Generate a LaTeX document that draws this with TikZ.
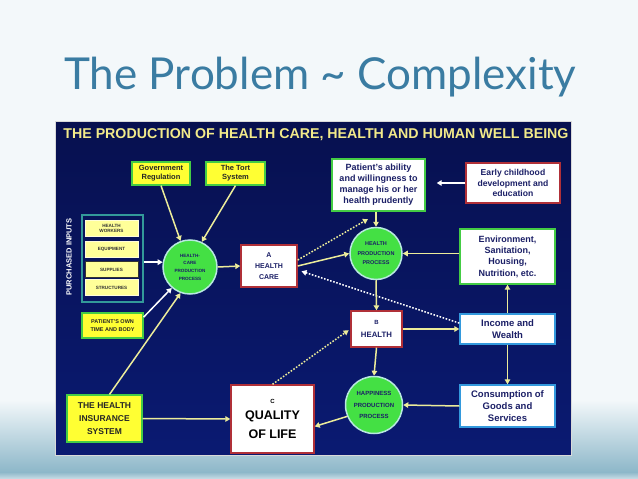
\documentclass[tikz,border=0pt]{standalone}
\usepackage{fontspec}
\setmainfont{Liberation Sans}
\newfontfamily\titlefont{Lato}
\usetikzlibrary{arrows.meta,positioning,calc}

\definecolor{slidebg}{HTML}{F3F8FA}
\definecolor{slideblue}{HTML}{8DB7C9}
\definecolor{titleblue}{HTML}{3A7CA2}
\definecolor{navytop}{HTML}{07104F}
\definecolor{navymid}{HTML}{0C1F88}
\definecolor{navybot}{HTML}{0A1A72}
\definecolor{headyellow}{HTML}{F2EA8A}
\definecolor{linkyellow}{HTML}{ECEC9A}
\definecolor{boxtext}{HTML}{1B1F66}
\definecolor{boxred}{HTML}{B03038}
\definecolor{boxgreen}{HTML}{44CC44}
\definecolor{boxblue}{HTML}{3399DD}
\definecolor{tagyellow}{HTML}{FFFF33}
\definecolor{paleyellow}{HTML}{FFFF99}
\definecolor{procgreen}{HTML}{44E044}
\definecolor{procrim}{HTML}{B8E8E0}
\definecolor{inputteal}{HTML}{339999}

\begin{document}
\begin{tikzpicture}[x=1pt,y=-1pt,
    every node/.style={font=\bfseries,text=boxtext},
    whitebox/.style={draw,fill=white,line width=1.4pt,align=center,inner sep=1pt},
    redbox/.style={whitebox,draw=boxred},
    greenbox/.style={whitebox,draw=boxgreen},
    bluebox/.style={whitebox,draw=boxblue},
    tagbox/.style={draw=boxgreen,fill=tagyellow,line width=1.2pt,align=center,inner sep=1pt,text=black!85},
    inbox/.style={draw=white!85!yellow,fill=paleyellow,line width=.8pt,minimum width=53,minimum height=16,
      font=\bfseries\fontsize{4.6}{5.5}\selectfont,align=center,inner sep=0pt,text=black!80},
    procnode/.style={circle,draw=procrim,fill=procgreen,line width=1.5pt,align=center,inner sep=0pt},
    link/.style={draw=linkyellow,line width=1.5pt,-{Triangle[width=5.5pt,length=5pt]}},
    wlink/.style={link,draw=white},
    dotlink/.style={link,dash pattern=on 1.6pt off 1.6pt},
    wdotlink/.style={dotlink,draw=white}]
  \useasboundingbox (0,0) rectangle (638,479);
  % slide background
  \fill[slidebg] (0,0) rectangle (638,479);
  \shade[top color=slidebg,bottom color=slideblue] (0,400) rectangle (638,472);
  \shade[top color=slideblue,bottom color=slidebg!60!slideblue] (0,472) rectangle (638,479);
  \node[anchor=base west,inner sep=0pt,font=\titlefont\fontsize{44}{44}\selectfont,text=titleblue] (title) at (64,89) {The Problem \textasciitilde{} Complexity};

  % the dark panel
  \shade[top color=navytop,middle color=navymid,bottom color=navybot] (55,121) rectangle (571,455);
  \draw[white!70!gray,line width=.6pt] (55,121) rectangle (571,455);
  \node[font=\bfseries\fontsize{14.2}{16}\selectfont,text=headyellow] (head) at (316,135)
    {THE PRODUCTION OF HEALTH CARE, HEALTH AND HUMAN WELL BEING};

  % purchased inputs
  \node[draw=inputteal,line width=1.2pt,minimum width=61,minimum height=87] (inputs) at (112.5,258.5) {};
  \node[inbox] (workers) at (111.5,228.5) {HEALTH\\WORKERS};
  \node[inbox] (equip) at (111.5,249.5) {EQUIPMENT};
  \node[inbox,draw=black!80] (supplies) at (111.5,269.5) {SUPPLIES};
  \node[inbox] (structures) at (111.5,287.5) {STRUCTURES};
  \node[rotate=90,font=\bfseries\fontsize{7.5}{8}\selectfont,text=white] (purchased) at (69,257) {PURCHASED INPUTS};

  % yellow tags
  \node[tagbox,minimum width=58,minimum height=23,font=\bfseries\fontsize{7.5}{9}\selectfont] (gov) at (161,173.5) {Government\\Regulation};
  \node[tagbox,minimum width=59,minimum height=23,font=\bfseries\fontsize{7.5}{9}\selectfont] (tort) at (235.5,173.5) {The Tort\\System};
  \node[tagbox,minimum width=61,minimum height=25,font=\bfseries\fontsize{5.5}{8.5}\selectfont] (potb) at (112.5,325.5) {PATIENT'S OWN\\TIME AND BODY};
  \node[tagbox,minimum width=75,minimum height=47,font=\bfseries\fontsize{8.5}{13}\selectfont] (his) at (104.5,418.5) {THE HEALTH\\INSURANCE\\SYSTEM};

  % processes
  \node[procnode,minimum size=54,font=\bfseries\fontsize{4.6}{7.7}\selectfont] (hcp) at (190,267) {HEALTH-\\CARE\\PRODUCTION\\PROCESS};
  \node[procnode,minimum size=52,font=\bfseries\fontsize{5.5}{9.5}\selectfont] (hpp) at (376,253.5) {HEALTH\\PRODUCTION\\PROCESS};
  \node[procnode,minimum size=57,font=\bfseries\fontsize{6}{11.3}\selectfont] (happy) at (374,405) {HAPPINESS\\PRODUCTION\\PROCESS};

  % outcomes
  \node[redbox,minimum width=56,minimum height=42,font=\bfseries\fontsize{7}{11}\selectfont] (careA) at (269,266) {A\\HEALTH\\CARE};
  \node[redbox,minimum width=51,minimum height=36,font=\bfseries\fontsize{7.8}{13}\selectfont] (healthB) at (376.5,329) {{\fontsize{6}{6}\selectfont B}\\HEALTH};
  \node[redbox,minimum width=83,minimum height=68,font=\bfseries\fontsize{12.5}{19}\selectfont,text=black] (qol) at (272.5,419) {{\fontsize{6}{6}\selectfont C}\\[-3pt]QUALITY\\OF LIFE};

  % determinants on the right
  \node[greenbox,minimum width=93,minimum height=52,font=\bfseries\fontsize{9}{11}\selectfont] (patient) at (378.5,185) {Patient's ability\\and willingness to\\manage his or her\\health prudently};
  \node[redbox,minimum width=94,minimum height=40,font=\bfseries\fontsize{8.6}{10.8}\selectfont] (early) at (513,183) {Early childhood\\development and\\education};
  \node[greenbox,minimum width=95,minimum height=55,font=\bfseries\fontsize{9}{11.3}\selectfont] (env) at (507.5,256.5) {Environment,\\Sanitation,\\Housing,\\Nutrition, etc.};
  \node[bluebox,minimum width=95,minimum height=30,font=\bfseries\fontsize{9.5}{11.7}\selectfont] (income) at (507.5,329) {Income and\\Wealth};
  \node[bluebox,minimum width=95,minimum height=42,font=\bfseries\fontsize{9.5}{12}\selectfont] (consume) at (507.5,406) {Consumption of\\Goods and\\Services};
  \coordinate (ptip) at (368,219);

  % connectors
  \draw[link] (gov.south) -- (hcp.110);
  \draw[link] (tort.south) -- (hcp.65);
  \draw[wlink] (inputs.east |- hcp.170) -- (hcp.170);
  \draw[wlink] (potb.15) -- (hcp.229);
  \draw[link] ([xshift=5pt]his.north) -- (hcp.250);
  \draw[link] (his.east) -- (qol.west);
  \draw[link] (hcp.east) -- (careA.west);
  \draw[link] (careA.east) -- (hpp.west);
  \draw[dotlink] ([yshift=6pt]careA.east) -- (ptip);
  \draw[wdotlink,shorten >=4pt] (income.173) -- (careA.-8);
  \draw[link] (patient.south -| hpp.north) -- (hpp.north);
  \draw[wlink,shorten >=11pt] (early.west) -- (early.west -| patient.east);
  \draw[link] (env.west |- hpp.east) -- (hpp.east);
  \draw[link] (hpp.south) -- (healthB.north);
  \draw[link] (healthB.east) -- (income.west);
  \draw[link] (income.north) -- (env.south);
  \draw[link] (income.south) -- (consume.north);
  \draw[link] (healthB.south) -- (happy.north);
  \draw[link] (consume.west) -- (happy.east);
  \draw[link] (happy.203) -- (qol.-10);
  \draw[dotlink,shorten >=2pt] (qol.north) -- (healthB.west);
\end{tikzpicture}
\end{document}
